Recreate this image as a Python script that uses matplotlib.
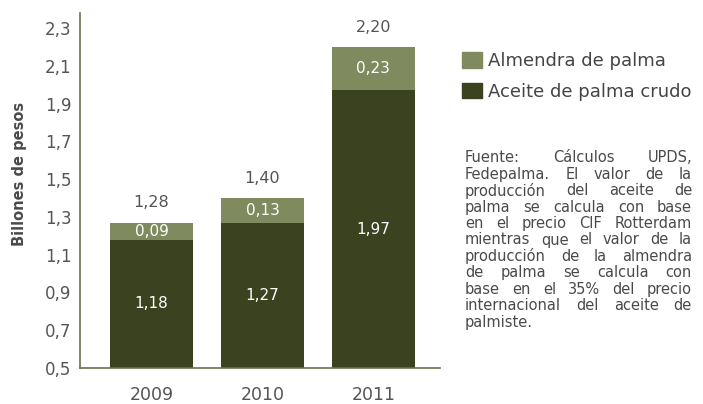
import matplotlib
matplotlib.use('Agg')
import matplotlib.pyplot as plt
from matplotlib.patches import Patch
import numpy as np

plt.rcParams['font.family'] = ['DejaVu Sans']

# datos (billones de pesos)
years = ['2009', '2010', '2011']
aceite = [1.18, 1.27, 1.97]
almendra = [0.09, 0.13, 0.23]
totales = ['1,28', '1,40', '2,20']
aceite_lbl = ['1,18', '1,27', '1,97']
almendra_lbl = ['0,09', '0,13', '0,23']
yticks = [0.5, 0.7, 0.9, 1.1, 1.3, 1.5, 1.7, 1.9, 2.1, 2.3]
ytick_lbl = ['0,5', '0,7', '0,9', '1,1', '1,3', '1,5', '1,7', '1,9', '2,1', '2,3']
legend_lbl = ['Almendra de palma', 'Aceite de palma crudo']
fuente_lineas = [
    'Fuente: Cálculos UPDS,',
    'Fedepalma. El valor de la',
    'producción del aceite de',
    'palma se calcula con base',
    'en el precio CIF Rotterdam',
    'mientras que el valor de la',
    'producción de la almendra',
    'de palma se calcula con',
    'base en el 35% del precio',
    'internacional del aceite de',
    'palmiste.',
]

c_dark = '#3b4220'
c_light = '#7f8a5e'
c_text = '#555555'

fig = plt.figure(figsize=(7.03, 4.04), dpi=100)
ax = fig.add_axes([80/703, 36/404, 360/703, 355/404])

x = np.arange(len(years))
base = 0.5
ax.bar(x, np.array(aceite) - base, bottom=base, width=0.75, color=c_dark)
ax.bar(x, almendra, bottom=aceite, width=0.75, color=c_light)

for i in range(len(years)):
    ax.text(x[i], (base + aceite[i]) / 2, aceite_lbl[i], ha='center', va='center',
            color='white', fontsize=11)
    ax.text(x[i], aceite[i] + almendra[i] / 2, almendra_lbl[i], ha='center', va='center',
            color='white', fontsize=11)
    ax.text(x[i], aceite[i] + almendra[i] + 0.105, totales[i], ha='center', va='center',
            color=c_text, fontsize=11.5)

ax.set_xlim(-0.644, 2.6)
ax.set_ylim(0.5, 2.38)
ax.set_xticks(x)
ax.set_xticklabels(years)
ax.set_yticks(yticks)
ax.set_yticklabels(ytick_lbl)
ax.tick_params(axis='both', length=0, colors=c_text)
ax.tick_params(axis='y', pad=6, labelsize=12)
ax.tick_params(axis='x', pad=13, labelsize=12.5)
for s in ['top', 'right']:
    ax.spines[s].set_visible(False)
for s in ['left', 'bottom']:
    ax.spines[s].set_color('#6b704f')
    ax.spines[s].set_linewidth(1.2)

ax.set_ylabel('Billones de pesos', fontsize=10.5, color='#4a4a4a', fontweight='bold')
ax.yaxis.set_label_coords(-0.146, 0.546)

handles = [Patch(color=c_light), Patch(color=c_dark)]
fig.legend(handles, legend_lbl, loc='upper left', bbox_to_anchor=(462/703, 1 - 52/404),
           frameon=False, fontsize=13, handlelength=1.1, handleheight=0.95,
           handletextpad=0.35, labelspacing=0.7, borderpad=0, borderaxespad=0,
           labelcolor='#444444')

# texto justificado
fig.canvas.draw()
renderer = fig.canvas.get_renderer()
left_px, right_px = 465, 692
y0, dy = 158, 16.4
for j, linea in enumerate(fuente_lineas):
    ypos = 1 - (y0 + j * dy) / 404
    words = linea.split(' ')
    if j == len(fuente_lineas) - 1 or len(words) == 1:
        fig.text(left_px / 703, ypos, linea, ha='left', va='center', fontsize=10.5, color='#4a4a4a')
        continue
    arts = [fig.text(0, ypos, w, ha='left', va='center', fontsize=10.5, color='#4a4a4a') for w in words]
    widths = [a.get_window_extent(renderer).width for a in arts]
    gap = (right_px - left_px - sum(widths)) / (len(words) - 1)
    pos = left_px
    for a, w in zip(arts, widths):
        a.set_x(pos / 703)
        pos += w + gap

fig.savefig('out.png', dpi=100)
